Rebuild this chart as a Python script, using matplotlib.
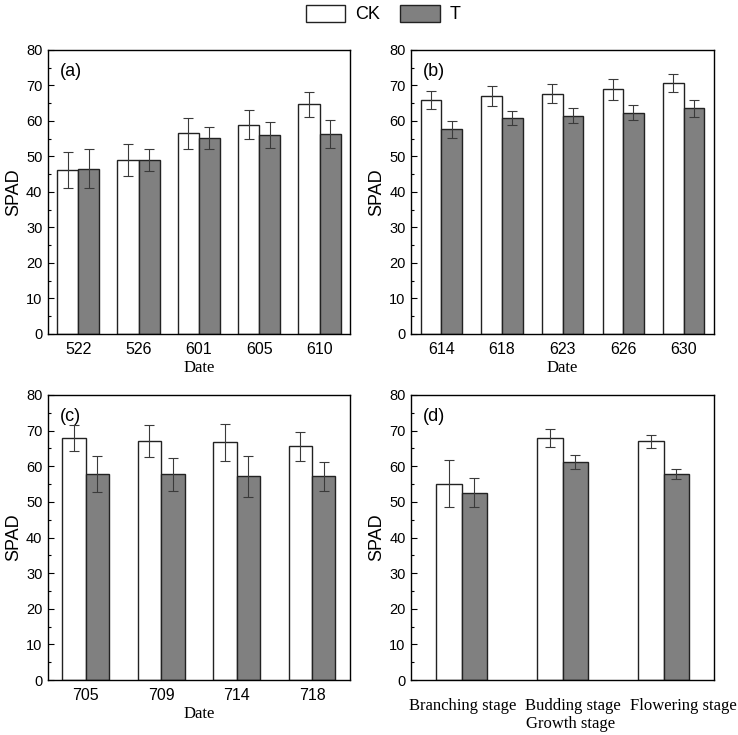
import numpy as np
import matplotlib
matplotlib.use("Agg")
import matplotlib.pyplot as plt
import matplotlib.transforms as mtransforms
from matplotlib.patches import Patch
from matplotlib.ticker import MultipleLocator

SANS = "Liberation Sans"
SERIF = "Liberation Serif"

# panel (a)
dates_a = ["522", "526", "601", "605", "610"]
ck_a = [46.2, 49.0, 56.5, 59.0, 64.7]
ck_a_err = [5.0, 4.5, 4.3, 4.1, 3.5]
t_a = [46.6, 49.0, 55.3, 56.0, 56.3]
t_a_err = [5.4, 3.1, 3.1, 3.7, 3.9]

# panel (b)
dates_b = ["614", "618", "623", "626", "630"]
ck_b = [66.0, 67.0, 67.7, 68.9, 70.7]
ck_b_err = [2.5, 2.9, 2.6, 3.0, 2.4]
t_b = [57.7, 60.8, 61.5, 62.3, 63.6]
t_b_err = [2.4, 1.9, 2.2, 2.1, 2.4]

# panel (c)
dates_c = ["705", "709", "714", "718"]
ck_c = [68.0, 67.2, 66.7, 65.6]
ck_c_err = [3.6, 4.5, 5.1, 4.1]
t_c = [57.9, 57.7, 57.2, 57.2]
t_c_err = [5.0, 4.6, 5.7, 4.1]

# panel (d)
stages = ["Branching stage", "Budding stage", "Flowering stage"]
ck_d = [55.1, 67.9, 67.0]
ck_d_err = [6.6, 2.6, 1.9]
t_d = [52.6, 61.2, 57.7]
t_d_err = [4.0, 2.0, 1.4]

GRAY = "#808080"
EDGE = "#222222"


def draw_panel(ax, labels, ck, ck_err, t, t_err, width, tag, xlabel, serif_ticks=False):
    x = np.arange(len(labels))
    ekw = dict(ecolor="#3a3a3a", elinewidth=0.8, capsize=3.5, capthick=0.8)
    ax.bar(x - width / 2, ck, width, color="white", edgecolor=EDGE, linewidth=1.0,
           yerr=ck_err, error_kw=ekw)
    ax.bar(x + width / 2, t, width, color=GRAY, edgecolor=EDGE, linewidth=1.0,
           yerr=t_err, error_kw=ekw)
    ax.set_xlim(-0.5, len(labels) - 0.5)
    ax.set_ylim(0, 80)
    ax.yaxis.set_major_locator(MultipleLocator(10))
    ax.yaxis.set_minor_locator(MultipleLocator(5))
    ax.tick_params(axis="y", which="major", direction="in", length=4, width=0.8,
                   labelsize=10.5, right=False, pad=4)
    ax.tick_params(axis="y", which="minor", direction="in", length=2, width=0.8, right=False)
    ax.set_xticks(x)
    if serif_ticks:
        ax.tick_params(axis="x", length=0, pad=13)
        ax.set_xticklabels(labels, fontfamily=SERIF, fontsize=12)
    else:
        ax.tick_params(axis="x", length=0, pad=6)
        ax.set_xticklabels(labels, fontfamily=SANS, fontsize=11.5)
    for lab in ax.get_yticklabels():
        lab.set_fontfamily(SANS)
    for s in ax.spines.values():
        s.set_linewidth(1.0)
    ax.set_ylabel("SPAD", fontfamily=SANS, fontsize=13, labelpad=3)
    ax.set_xlabel(xlabel, fontfamily=SERIF, fontsize=12, labelpad=2)
    ax.text(0.04, 0.923, tag, transform=ax.transAxes, fontfamily=SANS, fontsize=13,
            va="center")


fig = plt.figure(figsize=(7.38, 7.35), dpi=100)
ax_a = fig.add_axes([0.065, 0.5456, 0.409, 0.3864])
ax_b = fig.add_axes([0.557, 0.5456, 0.4106, 0.3864])
ax_c = fig.add_axes([0.065, 0.0748, 0.409, 0.3878])
ax_d = fig.add_axes([0.557, 0.0748, 0.4106, 0.3878])

draw_panel(ax_a, dates_a, ck_a, ck_a_err, t_a, t_a_err, 0.35, "(a)", "Date")
draw_panel(ax_b, dates_b, ck_b, ck_b_err, t_b, t_b_err, 0.34, "(b)", "Date")
draw_panel(ax_c, dates_c, ck_c, ck_c_err, t_c, t_c_err, 0.31, "(c)", "Date")
draw_panel(ax_d, stages, ck_d, ck_d_err, t_d, t_d_err, 0.255, "(d)", "Growth stage",
           serif_ticks=True)

# stage labels in (d) sit a little right of the bar groups, spaced apart
for lab, dx in zip(ax_d.get_xticklabels(), [1.5, 10, 20]):
    lab.set_transform(lab.get_transform() +
                      mtransforms.ScaledTranslation(dx / 100, 0, fig.dpi_scale_trans))
ax_d.xaxis.set_label_coords(0.525, -0.125)

handles = [Patch(facecolor="white", edgecolor=EDGE, linewidth=1.0, label="CK"),
           Patch(facecolor=GRAY, edgecolor=EDGE, linewidth=1.0, label="T")]
fig.legend(handles=handles, loc="center", bbox_to_anchor=(0.519, 0.981), ncol=2,
           frameon=False, prop={"family": SANS, "size": 13}, handlelength=2.2,
           handleheight=1.1, columnspacing=1.1, handletextpad=0.55)

fig.savefig("out.png", dpi=100)
